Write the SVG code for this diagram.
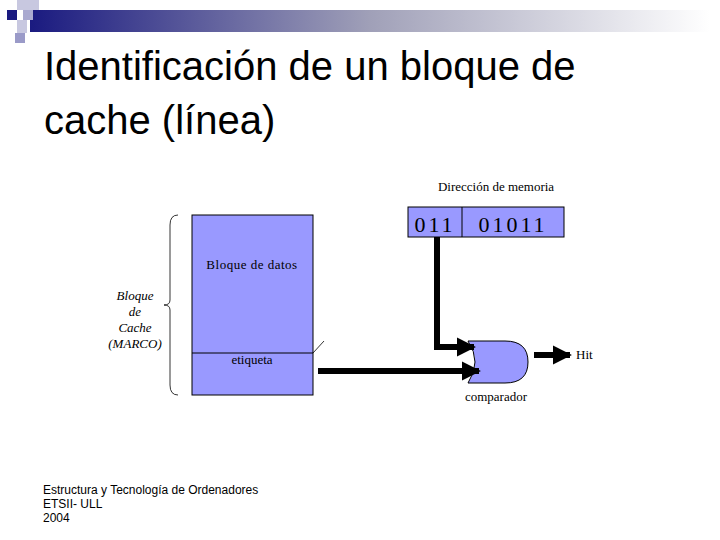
<svg xmlns="http://www.w3.org/2000/svg" width="720" height="540" viewBox="0 0 720 540">
<defs>
<linearGradient id="g" x1="0" x2="1"><stop offset="0" stop-color="#1a1a80"/><stop offset="0.5" stop-color="#a0a0b8"/><stop offset="1" stop-color="#ffffff"/></linearGradient>
<marker id="ah" viewBox="0 0 10 10" refX="9" refY="5" markerWidth="3.2" markerHeight="3.2" orient="auto" markerUnits="strokeWidth"><path d="M0,0 L10,5 L0,10 z" fill="#000"/></marker>
<style>
.s{font-family:"Liberation Serif",serif;font-size:13px}
.blk{fill:#9999ff;stroke:#000;stroke-width:1}
.c{fill:none;stroke:#000;stroke-width:6;marker-end:url(#ah)}
</style>
</defs>
<rect width="720" height="540" fill="#fff"/>
<rect x="30" y="10" width="680" height="22" fill="url(#g)"/>
<rect x="7" y="10" width="10" height="10" fill="#1a1a80"/>
<rect x="17" y="0" width="10" height="10" fill="#c8c8e0"/>
<rect x="27" y="0" width="12" height="10" fill="#c8c8e0"/>
<rect x="23" y="10" width="10" height="10" fill="#aaaad0"/>
<rect x="17" y="20" width="10" height="13" fill="#c8c8e0"/>
<rect x="15" y="33" width="10" height="10" fill="#9a9ac8"/>
<text x="44" y="80" font-family="Liberation Sans,Arial,sans-serif" font-size="40">Identificación de un bloque de</text>
<text x="44" y="134" font-family="Liberation Sans,Arial,sans-serif" font-size="40">cache (línea)</text>
<g id="bloque">
<rect class="blk" x="192" y="215" width="121" height="180"/>
<line x1="192" y1="353" x2="313" y2="353" stroke="#000"/>
<line x1="313" y1="353" x2="324" y2="341" stroke="#000" stroke-width="0.8"/>
<text class="s" x="252" y="269" text-anchor="middle" letter-spacing="0.5">Bloque de datos</text>
<text class="s" x="252" y="364" text-anchor="middle">etiqueta</text>
</g>
<g id="marco">
<path d="M178,215 Q170,215 170,225 L170,300 Q170,305 164,305 Q170,305 170,310 L170,385 Q170,395 178,395" fill="none" stroke="#000" stroke-width="0.8"/>
<text class="s" x="135" y="300" text-anchor="middle" font-style="italic">Bloque</text>
<text class="s" x="135" y="316" text-anchor="middle" font-style="italic">de</text>
<text class="s" x="135" y="332" text-anchor="middle" font-style="italic">Cache</text>
<text class="s" x="135" y="348" text-anchor="middle" font-style="italic">(MARCO)</text>
</g>
<g id="direccion">
<text class="s" x="496" y="191" text-anchor="middle">Dirección de memoria</text>
<rect class="blk" x="408" y="207" width="156" height="30"/>
<line x1="462" y1="207" x2="462" y2="237" stroke="#000"/>
<text x="435" y="232" font-family="Liberation Serif,serif" font-size="22" text-anchor="middle" letter-spacing="3">011</text>
<text x="513" y="232" font-family="Liberation Serif,serif" font-size="22" text-anchor="middle" letter-spacing="3">01011</text>
</g>
<g id="comparador">
<path class="blk" d="M468,341 L505,341 Q528,341 528,362 Q528,383 505,383 L468,383 Q482,362 468,341 Z"/>
<text class="s" x="496" y="401" text-anchor="middle">comparador</text>
</g>
<text class="s" x="576" y="359">Hit</text>
<g id="conectores">
<path class="c" d="M437,237 L437,347 L474,347"/>
<path class="c" d="M318,371 L479,371"/>
<path class="c" d="M534,355 L570,355"/>
</g>
<g font-family="Liberation Sans,Arial,sans-serif" font-size="12">
<text x="43" y="494">Estructura y Tecnología de Ordenadores</text>
<text x="43" y="508">ETSII- ULL</text>
<text x="43" y="522">2004</text>
</g>
</svg>
